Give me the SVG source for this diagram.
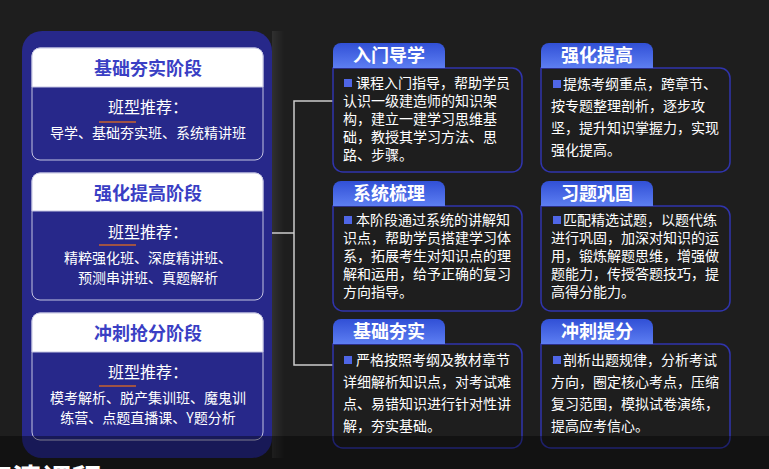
<svg xmlns="http://www.w3.org/2000/svg" width="769" height="469" viewBox="0 0 769 469">
<defs>
<linearGradient id="tabg" x1="0" y1="0" x2="0" y2="1">
<stop offset="0" stop-color="#3150d6"/>
<stop offset="1" stop-color="#5d7ef2"/>
</linearGradient>
<linearGradient id="strip" x1="0" y1="0" x2="1" y2="0">
<stop offset="0" stop-color="#303030"/>
<stop offset="1" stop-color="#1e1e1e"/>
</linearGradient>
<style>
text{font-family:"Noto Sans CJK SC","Noto Sans",sans-serif;}
.ct{font-size:18px;font-weight:bold;fill:#3a3fc4;text-anchor:middle;}
.cr{font-size:16px;fill:#ffffff;text-anchor:middle;}
.cb{font-size:14px;fill:#ffffff;text-anchor:middle;}
.tab{fill:url(#tabg);}
.box{fill:#1e1e1e;stroke:#3034ad;stroke-width:1.5;}
.tt{font-size:18px;font-weight:bold;fill:#ffffff;text-anchor:middle;}
.bt{font-size:14px;fill:#ffffff;}
.bul{fill:#4f66e6;}
.card{fill:#27288a;stroke:#c4c4e2;stroke-width:1;}
.hdr{fill:#ffffff;stroke:#c4c4e2;stroke-width:1;}
.ul{stroke:#c9622c;stroke-width:1.6;}
.conn{fill:none;stroke:#cccccc;stroke-width:1.5;}
</style>
</defs>
<rect x="0" y="0" width="769" height="469" fill="#1e1e1e"/>
<rect x="272" y="31" width="12" height="427" fill="url(#strip)"/>
<rect id="panel" x="22" y="31" width="250" height="427" rx="20" fill="#27288a"/>

<g id="stage1">
<rect class="card" x="32" y="48" width="231" height="112" rx="8"/>
<path class="hdr" d="M32,87 V56 a8,8 0 0 1 8,-8 H255 a8,8 0 0 1 8,8 V87 Z"/>
<text class="ct" x="148" y="74.5">基础夯实阶段</text>
<text class="cr" x="148" y="112.5">班型推荐：</text>
<line class="ul" x1="99" y1="122" x2="136" y2="122"/>
<text class="cb" x="148" y="138">导学、基础夯实班、系统精讲班</text>
</g>

<g id="stage2">
<rect class="card" x="32" y="173" width="231" height="127" rx="8"/>
<path class="hdr" d="M32,211 V181 a8,8 0 0 1 8,-8 H255 a8,8 0 0 1 8,8 V211 Z"/>
<text class="ct" x="148" y="199.5">强化提高阶段</text>
<text class="cr" x="148" y="237.5">班型推荐：</text>
<line class="ul" x1="99" y1="245" x2="136" y2="245"/>
<text class="cb" x="148" y="263">精粹强化班、深度精讲班、</text>
<text class="cb" x="148" y="283">预测串讲班、真题解析</text>
</g>

<g id="stage3">
<rect class="card" x="32" y="313" width="231" height="127" rx="8"/>
<path class="hdr" d="M32,352 V321 a8,8 0 0 1 8,-8 H255 a8,8 0 0 1 8,8 V352 Z"/>
<text class="ct" x="148" y="339.5">冲刺抢分阶段</text>
<text class="cr" x="148" y="377.5">班型推荐：</text>
<line class="ul" x1="99" y1="386" x2="136" y2="386"/>
<text class="cb" x="148" y="403">模考解析、脱产集训班、魔鬼训</text>
<text class="cb" x="148" y="423">练营、点题直播课、Y题分析</text>
</g>

<g id="connectors">
<line class="conn" x1="272" y1="233" x2="294" y2="233"/>
<path class="conn" d="M333,101 H294 V365 H333"/>
</g>

<g id="rumen" transform="translate(333,43)">
<path class="box" d="M0,25 H179 a10,10 0 0 1 10,10 V119 a10,10 0 0 1 -10,10 H10 a10,10 0 0 1 -10,-10 Z"/>
<path class="tab" d="M0,25 V8 a8,8 0 0 1 8,-8 H104 a8,8 0 0 1 8,8 V25 Z"/>
<text class="tt" x="56" y="18.5">入门导学</text>
<rect class="bul" x="11" y="36" width="8" height="8"/>
<text class="bt" x="23" y="45">课程入门指导，帮助学员</text>
<text class="bt" x="10" y="63">认识一级建造师的知识架</text>
<text class="bt" x="10" y="81">构，建立一建学习思维基</text>
<text class="bt" x="10" y="99">础，教授其学习方法、思</text>
<text class="bt" x="10" y="117">路、步骤。</text>
</g>

<g id="qianghua" transform="translate(541,43)">
<path class="box" d="M0,25 H179 a10,10 0 0 1 10,10 V119 a10,10 0 0 1 -10,10 H10 a10,10 0 0 1 -10,-10 Z"/>
<path class="tab" d="M0,25 V8 a8,8 0 0 1 8,-8 H104 a8,8 0 0 1 8,8 V25 Z"/>
<text class="tt" x="56" y="18.5">强化提高</text>
<rect class="bul" x="12" y="37" width="8" height="8"/>
<text class="bt" x="22" y="46">提炼考纲重点，跨章节、</text>
<text class="bt" x="10" y="68">按专题整理剖析，逐步攻</text>
<text class="bt" x="10" y="90">坚，提升知识掌握力，实现</text>
<text class="bt" x="10" y="112">强化提高。</text>
</g>

<g id="xitong" transform="translate(333,181)">
<path class="box" d="M0,25 H179 a10,10 0 0 1 10,10 V120 a10,10 0 0 1 -10,10 H10 a10,10 0 0 1 -10,-10 Z"/>
<path class="tab" d="M0,25 V8 a8,8 0 0 1 8,-8 H104 a8,8 0 0 1 8,8 V25 Z"/>
<text class="tt" x="56" y="18.5">系统梳理</text>
<rect class="bul" x="11" y="35" width="8" height="8"/>
<text class="bt" x="23" y="44">本阶段通过系统的讲解知</text>
<text class="bt" x="10" y="62">识点，帮助学员搭建学习体</text>
<text class="bt" x="10" y="80">系，拓展考生对知识点的理</text>
<text class="bt" x="10" y="98">解和运用，给予正确的复习</text>
<text class="bt" x="10" y="116">方向指导。</text>
</g>

<g id="xiti" transform="translate(541,181)">
<path class="box" d="M0,25 H179 a10,10 0 0 1 10,10 V120 a10,10 0 0 1 -10,10 H10 a10,10 0 0 1 -10,-10 Z"/>
<path class="tab" d="M0,25 V8 a8,8 0 0 1 8,-8 H104 a8,8 0 0 1 8,8 V25 Z"/>
<text class="tt" x="56" y="18.5">习题巩固</text>
<rect class="bul" x="12" y="35" width="8" height="8"/>
<text class="bt" x="22" y="44">匹配精选试题，以题代练</text>
<text class="bt" x="10" y="62">进行巩固，加深对知识的运</text>
<text class="bt" x="10" y="80">用，锻炼解题思维，增强做</text>
<text class="bt" x="10" y="98">题能力，传授答题技巧，提</text>
<text class="bt" x="10" y="116">高得分能力。</text>
</g>

<g id="jichu" transform="translate(333,319)">
<path class="box" d="M0,25 H179 a10,10 0 0 1 10,10 V119 a10,10 0 0 1 -10,10 H10 a10,10 0 0 1 -10,-10 Z"/>
<path class="tab" d="M0,25 V8 a8,8 0 0 1 8,-8 H104 a8,8 0 0 1 8,8 V25 Z"/>
<text class="tt" x="56" y="18.5">基础夯实</text>
<rect class="bul" x="11" y="37" width="8" height="8"/>
<text class="bt" x="23" y="46">严格按照考纲及教材章节</text>
<text class="bt" x="10" y="68">详细解析知识点，对考试难</text>
<text class="bt" x="10" y="90">点、易错知识进行针对性讲</text>
<text class="bt" x="10" y="112">解，夯实基础。</text>
</g>

<g id="chongci" transform="translate(541,319)">
<path class="box" d="M0,25 H179 a10,10 0 0 1 10,10 V119 a10,10 0 0 1 -10,10 H10 a10,10 0 0 1 -10,-10 Z"/>
<path class="tab" d="M0,25 V8 a8,8 0 0 1 8,-8 H104 a8,8 0 0 1 8,8 V25 Z"/>
<text class="tt" x="56" y="18.5">冲刺提分</text>
<rect class="bul" x="12" y="37" width="8" height="8"/>
<text class="bt" x="22" y="46">剖析出题规律，分析考试</text>
<text class="bt" x="10" y="68">方向，圈定核心考点，压缩</text>
<text class="bt" x="10" y="90">复习范围，模拟试卷演练，</text>
<text class="bt" x="10" y="112">提高应考信心。</text>
</g>

<rect x="0" y="436" width="769" height="33" fill="#000000" opacity="0.37"/>
<text x="-18" y="490" font-size="30" font-weight="bold" fill="#ffffff">高清课程</text>
</svg>
